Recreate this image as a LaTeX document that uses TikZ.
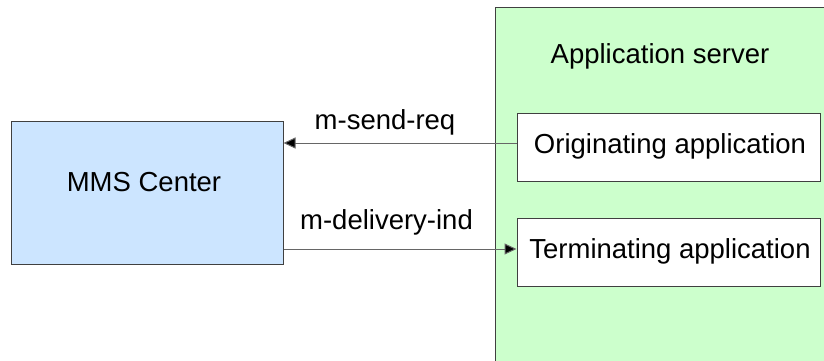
\documentclass[tikz,border=0pt]{standalone}
\usepackage{fontspec}
\setmainfont{Liberation Sans}
\usetikzlibrary{arrows.meta}
\definecolor{mmsblue}{RGB}{204,229,255}
\definecolor{srvgreen}{RGB}{204,255,204}
\begin{document}
\begin{tikzpicture}[x=1pt,y=-1pt,
  font=\fontsize{27.5}{33}\selectfont,
  box/.style={draw=black!75, line width=1pt, rectangle, inner sep=0pt},
  lbl/.style={anchor=base, inner sep=0pt},
  msg/.style={draw=black!60, line width=1pt,
    -{Triangle[length=12pt,width=11pt,fill=black]}}]
  \useasboundingbox (0,0) rectangle (824,360);
  \clip (0,0) rectangle (824,360);

  % application server area (runs off the right and bottom edges)
  \node[box, fill=srvgreen, anchor=north west, minimum width=340pt,
        minimum height=370pt] (srv) at (495,7) {};
  \node[lbl] (srvlabel) at (660,63) {Application server};

  % MMS Center
  \node[box, fill=mmsblue, minimum width=272pt, minimum height=143pt]
        (mms) at (147,192.5) {};
  \node[lbl] (mmslabel) at (144,191.5) {MMS Center};

  % applications
  \node[box, fill=white, minimum width=303pt, minimum height=68pt]
        (orig) at (668.5,147) {};
  \node[lbl] (origlabel) at (670,153) {Originating application};
  \node[box, fill=white, minimum width=303pt, minimum height=68pt]
        (term) at (668.5,252) {};
  \node[lbl] (termlabel) at (670,258) {Terminating application};

  % messages
  \draw[msg] (orig.west |- 0,143) -- (mms.east |- 0,143);
  \node[lbl] (sendlabel) at (385,129) {m-send-req};
  \draw[msg] (mms.east |- 0,249) -- (term.west |- 0,249);
  \node[lbl] (delivlabel) at (386.5,229) {m-delivery-ind};
\end{tikzpicture}
\end{document}
